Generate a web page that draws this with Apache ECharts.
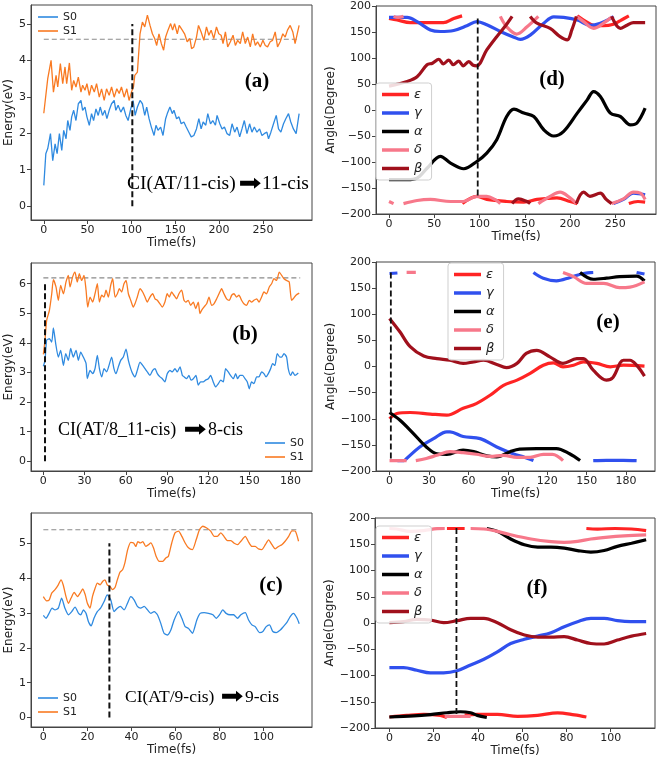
<!DOCTYPE html>
<html><head><meta charset="utf-8">
<script src="https://cdn.jsdelivr.net/npm/echarts@6/dist/echarts.min.js"></script>
<style>html,body{margin:0;padding:0;background:#fff}#c{width:660px;height:761px}</style>
</head><body><div id="c"></div>
<script>
// ---------- tick labels ----------
const ticksA = [0,50,100,150,200,250];
const ticksB = [0,30,60,90,120,150,180];
const ticksC = [0,20,40,60,80,100];
const ticksEa = [0,1,2,3,4,5];
const ticksEb = [0,1,2,3,4,5,6];
const ticksEc = [0,1,2,3,4,5];
const ticksAng = [-200,-150,-100,-50,0,50,100,150,200];

// ---------- panel (a) energies ----------
const aS1 = [[0,2.55],[4.5,3.5],[8.3,4.0],[11,3.13],[14,3.59],[15.9,3.27],[18.9,3.91],[21.6,3.36],[24.2,3.82],[26.1,3.36],[29.2,3.93],[31.8,3.18],[34.1,3.45],[36.7,3.27],[39.4,3.54],[42.4,3.13],[44.3,3.32],[47,3.18],[49.2,3.36],[51.9,3.04],[54.5,3.32],[57.6,3.13],[60.2,3.36],[63.3,2.99],[65.9,3.22],[68.9,2.9],[71.6,3.22],[74.6,3.04],[77.3,3.27],[80.3,2.99],[83.3,3.22],[86,3.09],[88.6,3.27],[91.7,2.99],[94.7,3.22],[97.3,2.9],[100,3.13],[102.3,3.27],[103.8,3.59],[106.8,3.68],[109.8,4.73],[112.5,5.05],[115.2,4.92],[118.2,5.24],[121.2,4.96],[123.9,4.73],[126.5,4.6],[128.8,4.41],[131.4,4.73],[134.1,4.46],[136.7,4.28],[139,4.64],[141.7,4.83],[144.7,5.01],[147,4.83],[149.2,5.01],[152.3,4.73],[154.5,4.96],[158,4.83],[160.6,4.73],[163.6,4.51],[166.7,4.6],[168.6,4.32],[171.2,4.37],[174.2,4.64],[176.5,4.96],[179.5,4.78],[182.6,4.55],[185.6,4.92],[188.3,4.69],[190.9,4.83],[193.9,4.6],[197,4.92],[199.6,4.73],[202.3,4.69],[204.5,4.46],[207.2,4.78],[209.8,4.37],[212.9,4.51],[215.9,4.69],[218.6,4.41],[221.2,4.55],[224.2,4.46],[226.9,4.78],[229.9,4.46],[232.6,4.64],[235.6,4.37],[238.3,4.73],[241.3,4.41],[243.9,4.51],[247,4.37],[250,4.55],[252.7,4.41],[255.3,4.37],[258.3,4.51],[261,4.55],[264,4.78],[266.7,4.37],[269.7,4.51],[272.7,4.73],[275.4,4.64],[278,4.83],[281.1,4.96],[284.1,4.78],[286.7,4.46],[288.6,4.51],[291.3,4.96]];
const aS0 = [[0,0.57],[2.3,1.44],[4.5,1.58],[7.6,1.99],[10.2,1.25],[12.9,1.71],[15.2,1.44],[17.8,1.99],[20.5,1.53],[22.7,2.08],[25.4,1.85],[27.3,2.35],[29.9,2.08],[31.8,2.45],[34.1,2.63],[36.7,2.35],[39.4,2.81],[42.4,2.9],[44.3,2.63],[47,2.72],[49.2,2.45],[51.9,2.22],[54.5,2.54],[56.8,2.35],[59.5,2.67],[62.1,2.49],[64.4,2.72],[67,2.49],[69.7,2.63],[72,2.4],[74.6,2.63],[77.3,2.81],[80.3,2.9],[82.2,2.63],[84.8,2.77],[87.9,2.58],[90.9,2.72],[93.6,2.49],[96.2,2.35],[99.2,2.67],[101.9,2.9],[104.2,2.49],[106.8,2.72],[109.8,2.9],[112.5,2.81],[115.2,2.49],[117.4,2.72],[120.1,2.4],[122.7,2.17],[125.8,1.94],[128,2.22],[130.3,2.08],[133.3,2.17],[136,1.94],[139,2.4],[140.9,2.54],[143.9,2.72],[146.6,2.54],[148.5,2.63],[151.5,2.4],[154.2,2.45],[156.8,2.26],[159.8,2.31],[162.5,2.17],[165.5,2.03],[168.2,1.9],[171.2,1.94],[174.2,2.12],[176.9,2.4],[179.5,2.12],[181.8,2.31],[184.8,2.22],[187.1,2.54],[190.2,2.26],[192.8,2.35],[195.8,2.22],[197.7,2.49],[200.8,2.26],[203.4,2.12],[206.1,2.17],[209.1,1.99],[212.1,1.94],[214.8,2.26],[217.8,2.03],[220.5,2.17],[223.5,1.9],[226.1,2.12],[228.8,2.35],[231.8,1.99],[234.8,2.26],[237.5,2.03],[240.2,2.17],[243.2,2.03],[246.2,2.12],[248.9,1.94],[251.5,1.99],[254.5,2.03],[256.4,1.85],[259.1,2.03],[262.1,2.26],[265.2,2.49],[267.8,2.12],[270.5,2.03],[273.5,2.26],[276.1,2.4],[279.2,2.54],[281.8,2.31],[284.8,2.12],[287.9,1.99],[291.3,2.54]];

// ---------- panel (b) energies ----------
const bS1 = [[0,3.61],[1.2,4.09],[2.4,4.76],[4.4,5.1],[6.1,5.66],[7.3,6.14],[9.2,5.89],[10.9,5.44],[12.6,5.94],[14.6,5.66],[16.5,6.06],[18.2,6.28],[19.4,5.89],[21.3,6.23],[23,6.39],[24.7,6.06],[26.2,6.34],[27.9,6.11],[29.6,6.28],[31.1,5.78],[32.3,5.21],[34,5.55],[35.9,5.38],[37.6,5.66],[39.3,6.0],[40.8,5.38],[42.5,5.61],[44.2,5.55],[45.6,5.78],[47.3,5.55],[49,5.94],[50.5,6.17],[52.2,5.55],[53.9,5.66],[55.3,5.83],[57,5.72],[58.7,6.0],[60.2,6.11],[61.9,5.66],[63.6,5.44],[65.5,5.21],[66.7,5.32],[68.4,5.55],[70.4,5.83],[72.3,5.72],[74,5.55],[75.7,5.38],[77.6,5.55],[79.6,5.66],[81.3,5.49],[83,5.44],[84.9,5.32],[86.6,5.21],[88.5,5.38],[90.2,5.66],[91.7,5.55],[93.4,5.72],[95.1,5.61],[97,5.49],[98.7,5.66],[100.7,5.78],[102.4,5.44],[103.8,5.38],[105.5,5.44],[107.2,5.27],[109.2,5.38],[110.9,5.16],[112.8,5.38],[114,4.99],[115.2,5.1],[116.9,5.21],[118.9,5.32],[120.6,5.55],[122.5,5.27],[124.2,5.32],[126.2,5.49],[127.9,5.66],[129.8,5.83],[131.5,5.66],[133.4,5.49],[135.4,5.44],[137.1,5.61],[138.8,5.66],[140.7,5.55],[142.4,5.61],[144.3,5.44],[146,5.32],[148,5.27],[149.9,5.44],[151.6,5.38],[153.3,5.44],[155.3,5.49],[157,5.38],[158.9,5.55],[160.6,5.72],[162.5,5.66],[164.5,5.89],[166.2,6.0],[167.9,6.17],[169.8,6.11],[171.8,6.39],[173.5,6.28],[175.2,6.17],[177.1,6.11],[179,6.06],[180.7,5.44],[181.9,5.49],[183.9,5.61],[186.3,5.68]];
const bS0 = [[0,3.21],[1.2,3.41],[2.4,4.09],[4.4,4.14],[6.1,4.03],[7.3,4.51],[9,3.97],[10.9,3.52],[12.6,3.75],[14.6,3.24],[16.3,3.64],[18.2,3.41],[19.9,3.81],[21.8,3.52],[23.8,3.75],[25.5,3.41],[27.2,3.69],[29.1,3.52],[31.1,3.3],[32,2.79],[34,3.07],[35.9,2.96],[37.6,3.13],[39.3,3.58],[40.8,3.13],[42.5,2.85],[44.2,3.13],[46.1,3.02],[47.8,3.24],[49.7,3.52],[51.4,3.13],[52.9,2.96],[54.6,3.19],[56.3,3.41],[58.2,3.52],[60.2,3.79],[61.9,3.41],[63.6,3.13],[65,2.96],[66.7,2.85],[68.4,3.07],[70.4,3.35],[72.3,3.24],[74,3.13],[75.7,3.02],[77.6,2.9],[79.6,3.07],[81.3,3.13],[83,2.96],[84.9,2.85],[86.6,2.79],[88.5,2.68],[90.2,2.96],[92.2,3.07],[93.9,3.02],[95.8,3.13],[97.5,3.02],[99.5,3.19],[101.2,2.9],[102.6,2.85],[104.3,2.79],[106,2.9],[107.5,2.74],[109.2,2.79],[111.1,2.9],[112.8,2.57],[114.5,2.68],[116.4,2.68],[118.1,2.74],[120.1,2.79],[121.8,2.9],[123.7,2.68],[125.4,2.51],[127.4,2.62],[129.1,2.74],[131,2.68],[132.7,3.13],[134.6,3.02],[136.3,2.9],[138.3,2.79],[140,2.96],[141.4,2.79],[143.1,2.9],[145.1,2.9],[146.8,2.79],[148.5,2.68],[149.9,2.45],[151.6,2.68],[153.3,2.62],[155.3,2.85],[157,2.85],[158.9,3.02],[160.6,2.96],[162.1,2.85],[163.8,2.96],[165.5,3.13],[166.9,3.3],[168.6,3.24],[170.3,3.64],[172.2,3.52],[173.5,3.52],[175.2,3.64],[177.1,3.52],[178.3,3.13],[180,2.9],[181.5,3.02],[183.2,2.9],[185.6,2.98]];

// ---------- panel (c) energies ----------
const cS1 = [[0,3.47],[1.5,3.35],[2.7,3.38],[3.8,3.57],[5.3,3.67],[6.8,3.81],[8,3.95],[9,3.81],[10.3,3.47],[11.4,3.28],[12.6,3.43],[14,3.59],[15.5,3.47],[16.7,3.57],[17.9,3.69],[19,3.53],[20,3.28],[21.2,3.14],[22.3,3.47],[23.5,3.71],[24.5,3.86],[25.8,3.81],[27,3.91],[28,3.95],[29,3.81],[30.3,3.76],[31.4,3.67],[32.6,3.74],[33.6,3.95],[34.8,4.17],[36,4.24],[37,4.43],[38.3,4.82],[39.7,5.03],[41,5.01],[42,4.91],[42.9,5.05],[44,5.01],[45.2,5.05],[46.5,4.91],[47.7,4.96],[48.8,5.01],[50,4.87],[51.2,4.63],[52.7,4.48],[54.2,4.48],[55.6,4.58],[56.8,4.63],[58.3,5.01],[59.8,5.3],[61.4,5.35],[62.9,5.2],[64.4,5.01],[65.9,4.87],[67.7,4.82],[69.4,5.1],[70.9,5.39],[72.4,5.49],[74.2,5.44],[76,5.35],[77.6,5.2],[79,5.2],[80.6,5.3],[82,5.2],[83.6,5.08],[85.2,5.08],[86.7,5.0],[88.2,4.96],[89.7,5.06],[91.7,5.2],[93,5.06],[94.7,4.91],[96.2,4.91],[97.7,4.84],[99.2,4.82],[100.8,4.96],[102.3,5.1],[103.8,4.96],[105.3,4.84],[106.8,4.91],[108.3,4.96],[109.8,5.06],[111.4,5.2],[112.9,5.36],[114.4,5.35],[115.9,5.06]];
const cS0 = [[0,2.93],[1.2,2.85],[2.6,2.99],[4,3.14],[5.3,3.09],[6.8,3.14],[8.3,3.43],[9.8,3.14],[11.4,2.95],[12.9,3.04],[14.4,3.17],[16,2.99],[17,2.95],[18.2,3.09],[19.4,2.99],[20.5,2.75],[21.7,2.63],[23,2.85],[24.5,3.04],[26,3.14],[27.6,3.33],[29,3.52],[30.6,3.38],[32.1,3.04],[33.6,3.14],[35,3.19],[36.7,3.09],[38.2,3.28],[39.7,3.47],[41.2,3.38],[42.7,3.19],[44.2,3.14],[45.8,3.19],[47.3,3.09],[48.8,2.99],[50.3,3.04],[51.8,2.95],[53.3,2.71],[54.8,2.42],[56.4,2.37],[57.9,2.51],[59.4,2.8],[61.4,3.04],[62.9,2.85],[64.4,2.61],[65.9,2.56],[67.7,2.42],[69.7,2.8],[71.2,2.99],[73,3.01],[75,2.99],[77,2.95],[78.5,2.85],[80,2.95],[81.5,3.09],[83,2.99],[84.8,2.95],[86.4,2.95],[88.2,2.85],[89.7,2.95],[91.7,3.01],[93.2,2.8],[94.7,2.66],[96.2,2.61],[98.2,2.44],[99.7,2.47],[101.2,2.61],[102.7,2.66],[104.2,2.47],[105.8,2.44],[107.6,2.51],[109,2.61],[110.6,2.73],[112.1,2.9],[113.6,2.99],[115.2,2.85],[116.2,2.69]];

// reference levels / CI times
const ciTimes = [101, 1.2, 30];
const ciTops = [5, 6, 5];
const refLevels = [4.58, 6.2, 5.39];
const refEnds = [291, 187, 116];
const angCiTimes = [98, 1, 30.3];
const angCiRange = [[176,-170],[180,-181],[181,-179]];

// ---------- panel (d) angles (null = wrap break) ----------
const dEps = [[0,176],[9,173],[23.5,168],[45.7,168],[60,168],[71.5,176],[80.7,181],null,[81,-180],[97,-166],[108,-172],[130,-176],[149,-177],[163.5,-172],[185.6,-169],[200,-176],[208,-180],null,[208,181],[215,173],[226,163],[237,162],[248,165],[255.6,172],[265,181],null,[265,-180],[275,-176],[283,-177]];
const dGam = [[0,178],[20,178],[31,170],[45.7,154],[56.7,151],[71.5,153],[86,162],[97,170],[108,164],[123,151],[138,140],[145,136],[156,144],[171,167],[182,179],[193,178],[208,173],[222.5,163],[233.5,167],[244.6,176],[248,180],null,[248,-180],[259,-172],[270,-160],[283,-163]];
const dAlp = [[0,-134],[20,-134],[31,-131],[42,-112],[56.7,-89],[68,-102],[82.5,-113],[97,-99],[108,-83],[119,-57],[130,-12.5],[138,1.6],[149,-6],[160,-12.5],[171,-38],[182,-50],[193,-41],[208,-6],[219,19.5],[226,35.5],[233.5,26],[244.6,-6],[255.6,-12.5],[266.7,-28.5],[274,-25],[283,3.5]];
const dDel = [[0,-176],[5,-180],null,[5,180],[10,178],[16,180],null,[16,-180],[31,-174],[45.7,-172],[68,-176],[82,-176],[97,-166],[108,-166],[117,-172],[123,-180],null,[123,180],[130,160],[141,146],[152.5,160],[165,180],null,[165,-180],[178,-166],[189,-158],[200,-169],[207,-180],null,[207,180],[215,170],[226,157],[237,167],[246,179],null,[246,-180],[259,-171],[270,-158],[277.7,-160],[283,-172]];
const dBet = [[0,46],[20,55],[31,64],[42,87],[48,90],[55,97.6],[60,88.6],[66,96],[71,87],[77,94],[82,85],[88,93],[93,86],[97,85],[108,115.5],[119,141],[130,165],[136,180],null,[136,-180],[143,-171],[152.5,-176],[156,-180],null,[156,180],[163.5,167],[178,157],[189,141],[197,135],[202,154],[207,180],null,[207,-180],[215,-158],[222,-166],[233.5,-160],[240,-172],[246,-180],null,[246,180],[255.6,157],[263,163],[270,168],[283,168]];

// ---------- panel (e) angles ----------
const eEps = [[0,-100],[5.6,-90],[15.7,-88],[31,-91],[43.6,-93],[56,-80],[66,-71],[76.5,-55],[86.7,-36],[97,-26],[107,-13],[117,2.5],[124.7,7],[132,-0.6],[140,2.5],[147.5,9],[157.7,6],[168,-0.6],[178,2.5],[194,0.6]];
const eGam = [[0,178],[6,179],null,[6,-180],[11,-180],[13,-176],[23,-154],[33.5,-138],[43.6,-125],[46,-125],[56,-134],[69,-138],[81.6,-154],[94,-167],[103,-174],[109.5,-180],null,[109.5,180],[117,169],[127,164],[137,170],[147.5,178],[155,180],null,[155,-180],[165,-179.5],[178,-179.5],[188,-180],null,[188,180],[194,177]];
const eAlp = [[0,-88],[8,-103],[18,-128],[28,-154],[36,-167],[43.6,-168],[56,-160],[64,-163],[74,-171],[81.6,-173],[91.8,-163],[99,-158],[112,-157],[127,-157],[137,-167],[145,-180],null,[145,180],[155,167],[165,169],[175,172],[188,173],[194,164]];
const eDel = [[0,-180],[13,-180],null,[13,180],[20,180],null,[20,-180],[28,-176],[36,-170],[46,-163],[56,-165],[66,-168],[76.5,-172],[86.7,-170],[97,-174],[107,-174],[117,-168],[124,-168],[132,-180],null,[132,180],[140,172],[150,159],[163,159],[175,151],[183,152],[194,162]];
const eBet = [[0,92],[8,66],[15.7,38],[26,20],[36,15],[46,12],[56,6],[64,9],[71.5,12],[81.6,4],[89,-2],[97,6],[104,25],[112,31],[122,18.5],[132,6],[142.5,15],[147.5,15],[155,-7],[165,-26],[170,-21],[178,12],[183,12],[188,2.5],[194,-18.5]];

// ---------- panel (f) angles ----------
const fEps = [[0,-179],[7.9,-176],[15.5,-174],[23,-176],[26,-180],null,[26,180],[34,180],null,[34,-175],[39.7,-174],[48.8,-174],[57.9,-178],[67,-176],[76,-171],[83.6,-175],[89,-179],null,[89,180],[94,179],[102,180],[109.4,179],[116,176]];
const fGam = [[0,-85],[6.4,-85],[12.4,-90],[18.5,-95],[24.5,-95],[30.6,-91],[36.7,-80],[42.7,-69],[48.8,-55],[54.8,-39],[61,-31],[67,-25],[73,-18.5],[79,-7],[85,2.5],[91,9],[97,9],[103,4.5],[109,2.5],[116,2.5]];
const fAlp = [[0,-179],[11,-177],[18.5,-174.5],[26,-171],[32,-169],[36.7,-171],[39.7,-176],[44,-180],null,[44,180],[48.8,174.5],[54.8,160],[61,149],[67,144.6],[73,144.6],[79,142.7],[85,138],[91,135],[97,138],[103,146],[109.4,152],[116,158.6]];
const fDel = [[0,180],[3.3,179],[9.4,174.5],[15.5,176],[21.5,179.6],[25,180],null,[25,-178],[30,-178],[36.7,-178],null,[36.7,180],[42.7,179],[48.8,174.5],[54.8,168],[64,160],[73,155],[79,153.5],[85,155.4],[91,160],[98.8,163.7],[106,166],[116,168]];
const fBet = [[0,0.6],[6.4,2.5],[12.4,7],[18.5,5.7],[24.5,0.6],[30.6,4.5],[36.7,9],[42.7,9],[48.8,0.6],[54.8,-13],[61,-23],[67,-27],[73,-27],[79,-26],[85,-32.5],[91,-39],[97,-40],[103,-32.5],[109.4,-25],[116,-20]];

const angNames = ['ε','γ','α','δ','β'];
const energyNames = ['S0','S1'];

// ---------- styling ----------
const COL = {S0:'#2f8ae0', S1:'#f97a22', 'ε':'#ff2424', 'γ':'#3050ee', 'α':'#000000', 'δ':'#f7788a', 'β':'#a0101c'};
const AX = '#444', TXT = '#222', FONT = 'DejaVu Sans';
const fmt = v => (v < 0 ? '\u2212' + Math.abs(v) : String(v));

const grids = [
  {left:31, top:5, width:281, height:215},   // a
  {left:31, top:263, width:281, height:208}, // b
  {left:31, top:513, width:281, height:214}, // c
  {left:376, top:6, width:280, height:208},  // d
  {left:376, top:262, width:279, height:209},// e
  {left:375, top:518, width:280, height:210} // f
].map(g => Object.assign({show:true, borderColor:AX, borderWidth:1, backgroundColor:'transparent'}, g));

const xRanges = [[-14.6,306],[-9,195.6],[-5.6,122],[-14.4,295],[-10.3,202],[-6.5,120]];
const xTicks = [ticksA, ticksB, ticksC, ticksA, ticksB, ticksC];
const yRanges = [[-0.38,5.52],[-0.33,6.7],[-0.27,5.87],[-200,200],[-200,200],[-200,200]];
const yTicks = [ticksEa, ticksEb, ticksEc, ticksAng, ticksAng, ticksAng];

const xAxis = grids.map((g,i) => ({
  type:'value', gridIndex:i, min:xRanges[i][0], max:xRanges[i][1],
  name:'Time(fs)', nameLocation:'middle', nameGap:15,
  nameTextStyle:{fontSize:12, color:TXT, fontFamily:FONT},
  axisLine:{onZero:false, lineStyle:{color:AX}},
  axisTick:{inside:false, length:4, lineStyle:{color:AX}, customValues:xTicks[i]},
  axisLabel:{customValues:xTicks[i], fontSize:11, color:TXT, fontFamily:FONT, margin:5, formatter:fmt},
  splitLine:{show:false}
}));
const yAxis = grids.map((g,i) => ({
  type:'value', gridIndex:i, min:yRanges[i][0], max:yRanges[i][1],
  name: i < 3 ? 'Energy(eV)' : 'Angle(Degree)', nameLocation:'middle', nameGap: i < 3 ? 15 : 34, nameRotate:90,
  nameTextStyle:{fontSize:12, color:TXT, fontFamily:FONT},
  axisLine:{onZero:false, lineStyle:{color:AX}},
  axisTick:{inside:false, length:4, lineStyle:{color:AX}, customValues:yTicks[i]},
  axisLabel:{customValues:yTicks[i], fontSize:11, color:TXT, fontFamily:FONT, margin:5, formatter:fmt},
  splitLine:{show:false}
}));

function prep(arr){
  const out = []; let last = 0;
  arr.forEach(p => { if (p === null) out.push([last,'-']); else { out.push(p); last = p[0]; } });
  return out;
}
function lineSeries(name, gi, data, width, smooth, z){
  return {type:'line', name, xAxisIndex:gi, yAxisIndex:gi, data:prep(data), symbol:'none', showSymbol:false,
    smooth:smooth, connectNulls:false, silent:true, animation:false, z:z||2,
    lineStyle:{color:COL[name], width}, itemStyle:{color:COL[name]}};
}
function dashed(gi, p1, p2, color, width, dash, z){
  return {type:'line', name:'_ref'+gi+z, xAxisIndex:gi, yAxisIndex:gi, data:[p1,p2], symbol:'none',
    silent:true, animation:false, z:z, lineStyle:{color, width, type:dash}};
}

const series = [];
const energyData = [[aS0,aS1],[bS0,bS1],[cS0,cS1]];
energyData.forEach((pair,i) => {
  series.push(dashed(i, [0,refLevels[i]], [refEnds[i],refLevels[i]], '#8a8a8a', 1.2, [5,3], 1));
  series.push(lineSeries('S0', i, pair[0], 1.3, i===0 ? false : 0.2, 2));
  series.push(lineSeries('S1', i, pair[1], 1.3, i===0 ? false : 0.2, 2));
  series.push(dashed(i, [ciTimes[i],0], [ciTimes[i],ciTops[i]], '#111', 2, [6,3], 4));
});
const angData = [[dEps,dGam,dAlp,dDel,dBet],[eEps,eGam,eAlp,eDel,eBet],[fEps,fGam,fAlp,fDel,fBet]];
angData.forEach((set,k) => {
  const gi = 3 + k;
  set.forEach((d,j) => series.push(lineSeries(angNames[j], gi, d, 3.2, 0.35, 2 + j*0.01)));
  series.push(dashed(gi, [angCiTimes[k],angCiRange[k][0]], [angCiTimes[k],angCiRange[k][1]], '#111', 1.8, [6,3], 4));
});

const eLeg = (pos) => Object.assign({orient:'vertical', data:energyNames, icon:'rect', itemWidth:20, itemHeight:1.6,
  itemGap:2, selectedMode:false, padding:0,
  textStyle:{fontSize:11, color:TXT, fontFamily:FONT, lineHeight:12}}, pos);
const aLeg = (pos) => Object.assign({orient:'vertical', data:angNames, icon:'rect', itemWidth:27, itemHeight:3.5,
  itemGap:5.5, selectedMode:false, padding:[5,9,5,6], borderColor:'#cfcfcf', borderWidth:1, borderRadius:3,
  backgroundColor:'rgba(255,255,255,0.85)',
  textStyle:{fontSize:13, color:TXT, fontFamily:FONT, fontStyle:'italic', lineHeight:12}}, pos);

const legend = [
  eLeg({left:38, top:11}),
  eLeg({left:265, top:437}),
  eLeg({left:38, top:692}),
  aLeg({left:376, top:83}),
  aLeg({left:448, top:263}),
  aLeg({left:376, top:526})
];

const serif = 'Liberation Serif';
function txt(text, x, y, size, bold, align){
  return {type:'text', x, y, silent:true, z:10, style:{text, fontSize:size, fontFamily:serif, fontWeight:bold?'bold':'normal',
    fill:'#000', align:align||'center', verticalAlign:'middle'}};
}
function arrow(x, y){
  return {type:'text', x, y, silent:true, z:10, scaleX:1.25, style:{text:'\u27A1', fontSize:22, fontFamily:'DejaVu Sans',
    fill:'#000', align:'center', verticalAlign:'middle'}};
}
const graphic = [
  txt('(a)', 257, 82, 21, true), txt('(b)', 245, 335, 21, true), txt('(c)', 271, 586, 21, true),
  txt('(d)', 552, 80, 21, true), txt('(e)', 608, 323, 21, true), txt('(f)', 537, 589, 21, true),
  txt('CI(AT/11-cis)', 127, 184, 19.5, false, 'left'), arrow(250, 184), txt('11-cis', 262, 184, 19.5, false, 'left'),
  txt('CI(AT/8_11-cis)', 58, 430, 18, false, 'left'), arrow(195, 430), txt('8-cis', 208, 430, 18, false, 'left'),
  txt('CI(AT/9-cis)', 125, 697, 17.5, false, 'left'), arrow(232, 697), txt('9-cis', 245, 697, 17.5, false, 'left')
];

const chart = echarts.init(document.getElementById('c'), null, {renderer:'canvas'});
chart.setOption({animation:false, backgroundColor:'#fff', grid:grids, xAxis, yAxis, series, legend, graphic});
</script>
</body></html>
